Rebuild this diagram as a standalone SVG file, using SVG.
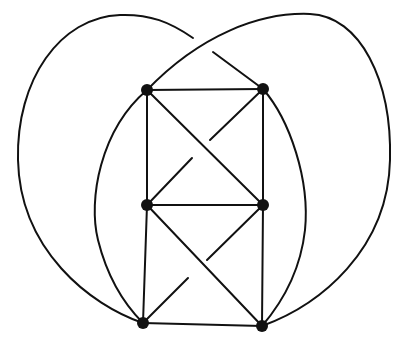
<svg xmlns="http://www.w3.org/2000/svg" width="393" height="338" viewBox="0 0 393 338">
<style>
.e{fill:none;stroke:#111;stroke-width:2;stroke-linecap:round}
.n{fill:#111}
</style>
<rect width="393" height="338" fill="#fff"/>
<g id="edges">
<path class="e" d="M147,90 L263,89"/>
<path class="e" d="M147,205 L263,205"/>
<path class="e" d="M143,323 L262,326"/>
<path class="e" d="M147,90 L147,205 L143,323"/>
<path class="e" d="M263,89 L263,205 L262,326"/>
<path class="e" d="M147,90 L263,205"/>
<path class="e" d="M263,89 L210,140 M192,158 L147,205"/>
<path class="e" d="M147,205 L262,326"/>
<path class="e" d="M263,205 L207,260 M188,278 L143,323"/>
<path class="e" d="M147,90 C200,35 260,12 310,14 C360,16 392,80 390,160 C388,250 320,305 262,326"/>
<path class="e" d="M263,89 L213,52 M193,38 C170,22 150,14 120,15 C60,17 16,80 18,160 C20,250 90,305 143,323"/>
<path class="e" d="M147,90 C100,130 88,200 98,240 C108,280 125,305 143,323"/>
<path class="e" d="M263,89 C290,120 310,180 305,230 C300,275 280,305 262,326"/>
</g>
<g id="n1"><circle class="n" cx="147" cy="90" r="6"/></g>
<g id="n2"><circle class="n" cx="263" cy="89" r="6"/></g>
<g id="n3"><circle class="n" cx="147" cy="205" r="6"/></g>
<g id="n4"><circle class="n" cx="263" cy="205" r="6"/></g>
<g id="n5"><circle class="n" cx="143" cy="323" r="6"/></g>
<g id="n6"><circle class="n" cx="262" cy="326" r="6"/></g>
</svg>
